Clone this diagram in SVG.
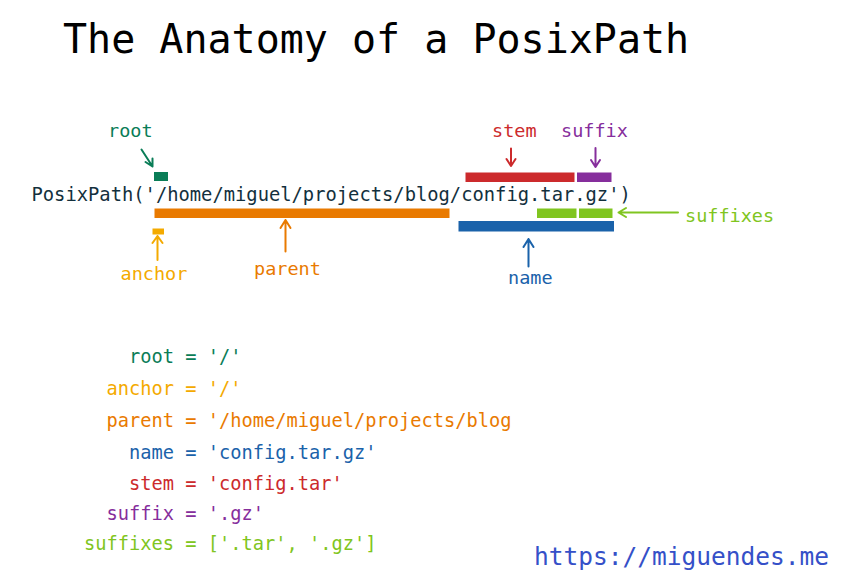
<svg xmlns="http://www.w3.org/2000/svg" width="848" height="579" viewBox="0 0 848 579">
<style>
text{font-family:"DejaVu Sans Mono","Liberation Mono",monospace;}
.lbl{font-size:18.5px;}
.code{font-size:18.7px;}
.c-root{fill:#0a7d57;} .s-root{stroke:#0a7d57;}
.c-anchor{fill:#f4aa00;} .s-anchor{stroke:#f4aa00;}
.c-parent{fill:#e97a00;} .s-parent{stroke:#e97a00;}
.c-name{fill:#1a62aa;} .s-name{stroke:#1a62aa;}
.c-stem{fill:#cc2a2c;} .s-stem{stroke:#cc2a2c;}
.c-suffix{fill:#862e9c;} .s-suffix{stroke:#862e9c;}
.c-suffixes{fill:#80c520;} .s-suffixes{stroke:#80c520;}
.arr{fill:none;stroke-width:2;stroke-linecap:round;stroke-linejoin:round;}
</style>
<rect width="848" height="579" fill="#ffffff"/>
<text x="63" y="53" font-size="40" fill="#000">The Anatomy of a PosixPath</text>
<g id="path-text">
<text x="31.5" y="201" font-size="18.8" fill="#13303d">PosixPath('/home/miguel/projects/blog/config.tar.gz')</text>
</g>
<g id="root">
<rect x="154" y="172" width="14" height="9" class="c-root"/>
<text x="108" y="137" class="lbl c-root">root</text>
</g>
<g id="anchor">
<rect x="152.5" y="228.5" width="11.5" height="6" class="c-anchor"/>
<text x="120.5" y="280" class="lbl c-anchor">anchor</text>
</g>
<g id="parent">
<rect x="154.5" y="208.5" width="295" height="9.5" class="c-parent"/>
<text x="254" y="274.5" class="lbl c-parent">parent</text>
</g>
<g id="name">
<rect x="458.5" y="221" width="155.5" height="10.5" class="c-name"/>
<text x="508" y="284" class="lbl c-name">name</text>
</g>
<g id="stem">
<rect x="465.5" y="172.5" width="109" height="9.5" class="c-stem"/>
<text x="492" y="136.5" class="lbl c-stem">stem</text>
</g>
<g id="suffix">
<rect x="577" y="172.5" width="34.5" height="9.5" class="c-suffix"/>
<text x="561" y="136.5" class="lbl c-suffix">suffix</text>
</g>
<g id="suffixes">
<rect x="537" y="208.5" width="39.5" height="9.5" class="c-suffixes"/>
<rect x="579" y="208.5" width="33.5" height="9.5" class="c-suffixes"/>
<text x="685" y="222" class="lbl c-suffixes">suffixes</text>
</g>
<g id="connectors">
<path class="arr s-root" d="M141.5 149.5 L152.5 166.5 M145.5 162 L152.5 166.5 L152.5 158.5"/>
<path class="arr s-anchor" d="M157.5 260 L157.5 236 M152.5 243 L157.5 236 L162.5 243"/>
<path class="arr s-parent" d="M285.5 251.5 L285.5 220 M280.5 228 L285.5 220 L290.5 228"/>
<path class="arr s-name" d="M528.5 266.5 L528.5 239 M523.5 247 L528.5 239 L533.5 247"/>
<path class="arr s-stem" d="M511 148.5 L511 166 M506.5 159 L511 166 L515.5 159"/>
<path class="arr s-suffix" d="M595.5 148 L595.5 167 M591 160 L595.5 167 L600 160"/>
<path class="arr s-suffixes" d="M678 212.5 L618.5 212.5 M626 208 L618.5 212.5 L626 217"/>
</g>
<g id="code" class="code">
<text x="129" y="362.5" class="c-root">root = '/'</text>
<text x="106.5" y="395" class="c-anchor">anchor = '/'</text>
<text x="106.5" y="427" class="c-parent">parent = '/home/miguel/projects/blog</text>
<text x="129" y="459" class="c-name">name = 'config.tar.gz'</text>
<text x="129" y="489.5" class="c-stem">stem = 'config.tar'</text>
<text x="106.5" y="519.5" class="c-suffix">suffix = '.gz'</text>
<text x="84" y="550" class="c-suffixes">suffixes = ['.tar', '.gz']</text>
</g>
<text x="534" y="564.5" font-size="24.5" fill="#3550c8">https://miguendes.me</text>
</svg>
